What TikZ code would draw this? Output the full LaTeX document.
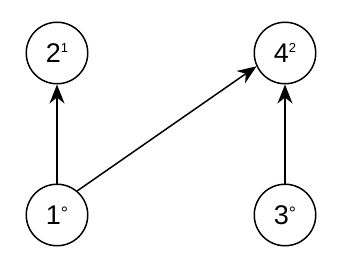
\documentclass[tikz,border=0pt]{standalone}
\usepackage{fontspec}
\setmainfont{Liberation Sans}
\usetikzlibrary{arrows.meta}
\newcommand{\upsc}[1]{\raisebox{10.5pt}{\fontsize{13}{14}\selectfont #1}}
\newcommand{\degsc}{\raisebox{5pt}{\fontsize{18}{20}\selectfont °}}
\tikzset{
  vtx/.style={circle, draw, line width=1.5pt, minimum size=61.5pt, inner sep=0pt, font=\fontsize{27}{30}\selectfont},
  edge/.style={line width=1.5pt, -{Stealth[length=19pt,width=15pt,inset=6pt]}}
}
\begin{document}
\begin{tikzpicture}[x=1pt,y=-1pt]
\useasboundingbox (0,0) rectangle (347,273);
\node[vtx] (n2) at (57,53) {2\upsc{1}};
\node[vtx] (n1) at (57,215) {1\degsc};
\node[vtx] (n4) at (285,53) {4\upsc{2}};
\node[vtx] (n3) at (285,215) {3\degsc};
\draw[edge] (n1.north) -- (n2.south);
\draw[edge] (n3.north) -- (n4.south);
\draw[edge] (n1.50) -- (n4.205);
\end{tikzpicture}
\end{document}
